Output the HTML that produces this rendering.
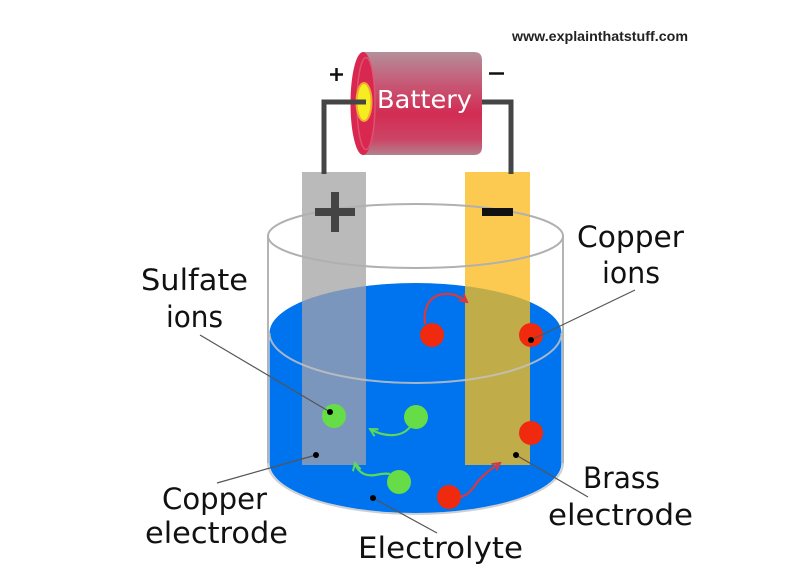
<!DOCTYPE html>
<html><head><meta charset="utf-8"><style>
html,body{margin:0;padding:0;background:#fff;}
svg{display:block;}
text{font-family:"DejaVu Sans","Liberation Sans",sans-serif;}
</style></head><body>
<svg width="800" height="580" viewBox="0 0 800 580" xmlns="http://www.w3.org/2000/svg">
<defs>
  <linearGradient id="batt" x1="0" y1="0" x2="0" y2="1">
    <stop offset="0" stop-color="#b48f9a"/>
    <stop offset="0.3" stop-color="#c65a77"/>
    <stop offset="0.6" stop-color="#d22c52"/>
    <stop offset="0.85" stop-color="#cc4566"/>
    <stop offset="1" stop-color="#b3808d"/>
  </linearGradient>
  <clipPath id="liq">
    <path d="M269.5,333 A146,50 0 0 1 561.5,333 L561.5,463 A146,50 0 0 1 269.5,463 Z"/>
  </clipPath>
  <marker id="ar" viewBox="0 0 10 10" refX="8.5" refY="5" markerWidth="10" markerHeight="10" markerUnits="userSpaceOnUse" orient="auto">
    <path d="M1,1 L8.5,5 L1,9" fill="none" stroke="#d63a40" stroke-width="2"/>
  </marker>
  <marker id="ag" viewBox="0 0 10 10" refX="8.5" refY="5" markerWidth="10" markerHeight="10" markerUnits="userSpaceOnUse" orient="auto">
    <path d="M1,1 L8.5,5 L1,9" fill="none" stroke="#5cd85a" stroke-width="2"/>
  </marker>
</defs>
<rect width="800" height="580" fill="#fff"/>

<!-- url -->
<text x="512" y="41" font-weight="bold" font-size="14" fill="#222" textLength="176" lengthAdjust="spacingAndGlyphs" style="font-family:'Liberation Sans',sans-serif">www.explainthatstuff.com</text>

<!-- beaker side lines and bottom -->
<line x1="268" y1="236" x2="268" y2="464" stroke="#b4b4b4" stroke-width="2"/>
<line x1="563" y1="236" x2="563" y2="464" stroke="#b4b4b4" stroke-width="2"/>
<path d="M268,463 A147.5,51 0 0 0 563,463" fill="none" stroke="#cfcfcf" stroke-width="2"/>

<!-- liquid -->
<path d="M269.5,333 A146,50 0 0 1 561.5,333 L561.5,463 A146,50 0 0 1 269.5,463 Z" fill="#0073ee"/>

<!-- electrodes -->
<rect x="302" y="172" width="64" height="293" fill="#bababa"/>
<rect x="465" y="172" width="65" height="293" fill="#fcca50"/>
<g clip-path="url(#liq)">
  <rect x="302" y="172" width="64" height="293" fill="#7b96bd"/>
  <rect x="465" y="172" width="65" height="293" fill="#c0ad4a"/>
</g>

<!-- liquid surface front arc -->
<path d="M269.5,333 A146,50 0 0 0 561.5,333" fill="none" stroke="#c2c2c2" stroke-width="2" opacity="0.85"/>

<!-- beaker top rim -->
<ellipse cx="415.5" cy="236" rx="147.5" ry="32" fill="none" stroke="#b0b0b0" stroke-width="2"/>

<!-- electrode signs -->
<rect x="315" y="208" width="40" height="8" fill="#444"/>
<rect x="331" y="192" width="8" height="40" fill="#444"/>
<rect x="482" y="208" width="31" height="8" fill="#111"/>

<!-- wires -->
<polyline points="478,102 511,102 511,174" fill="none" stroke="#454545" stroke-width="5"/>

<!-- battery -->
<path d="M363,52 L474,52 Q482,52 482,60 L482,147 Q482,155 474,155 L363,155 Z" fill="url(#batt)"/>
<ellipse cx="363" cy="103.5" rx="12.5" ry="51.5" fill="#d92850"/>
<ellipse cx="366" cy="103.5" rx="9" ry="46" fill="none" stroke="#e4607e" stroke-width="1.5" opacity="0.7"/>
<ellipse cx="364" cy="102" rx="7.5" ry="19" fill="#f5ec22" stroke="#f2a830" stroke-width="2"/>
<polyline points="366,102 324,102 324,174" fill="none" stroke="#454545" stroke-width="5"/>
<text x="377" y="108" font-size="25" fill="#fff" textLength="95" lengthAdjust="spacingAndGlyphs">Battery</text>

<!-- + and - battery labels -->
<line x1="330" y1="74.5" x2="343" y2="74.5" stroke="#111" stroke-width="2.5"/>
<line x1="336.5" y1="68" x2="336.5" y2="81" stroke="#111" stroke-width="2.5"/>
<line x1="489" y1="73.5" x2="504" y2="73.5" stroke="#111" stroke-width="2.5"/>

<!-- ions -->
<circle cx="334" cy="416" r="12" fill="#66dd46"/>
<circle cx="416" cy="417" r="12" fill="#66dd46"/>
<circle cx="399" cy="482" r="12" fill="#66dd46"/>
<circle cx="432" cy="335" r="12" fill="#f02a0e"/>
<circle cx="531" cy="335" r="12" fill="#f02a0e"/>
<circle cx="531" cy="433" r="12" fill="#f02a0e"/>
<circle cx="449" cy="497" r="12" fill="#f02a0e"/>

<!-- arrows -->
<path d="M425,324 C423,306 431,295 444,294 C453,293 461,297 467,302" fill="none" stroke="#d63a40" stroke-width="2.2" marker-end="url(#ar)"/>
<path d="M460,497 C470,495 474,486 480,479 C486,472 493,468 500,463" fill="none" stroke="#d63a40" stroke-width="2.2" marker-end="url(#ar)"/>
<path d="M410,427 C402,437 386,438 370,429" fill="none" stroke="#5cd85a" stroke-width="2.2" marker-end="url(#ag)"/>
<path d="M390,474 C380,472 374,478 364,474 C358,471 356,467 355,463" fill="none" stroke="#5cd85a" stroke-width="2.2" marker-end="url(#ag)"/>

<!-- leader lines -->
<g stroke="#555" stroke-width="1.2" fill="none">
  <line x1="200" y1="335" x2="330" y2="412"/>
  <line x1="217" y1="483" x2="316" y2="455"/>
  <line x1="635" y1="290" x2="531" y2="340"/>
  <line x1="516" y1="455" x2="588" y2="497"/>
  <line x1="373" y1="498" x2="437" y2="533"/>
</g>
<g fill="#000">
  <circle cx="330" cy="412" r="3"/>
  <circle cx="316" cy="455" r="3"/>
  <circle cx="531" cy="340" r="3"/>
  <circle cx="516" cy="455" r="3"/>
  <circle cx="373" cy="498" r="3"/>
</g>

<!-- labels -->
<g font-size="29" fill="#111">
  <text x="141" y="290" textLength="107" lengthAdjust="spacingAndGlyphs">Sulfate</text>
  <text x="166" y="327" textLength="57" lengthAdjust="spacingAndGlyphs">ions</text>
  <text x="162" y="509" textLength="105" lengthAdjust="spacingAndGlyphs">Copper</text>
  <text x="145" y="543" textLength="143" lengthAdjust="spacingAndGlyphs">electrode</text>
  <text x="577" y="247" textLength="107" lengthAdjust="spacingAndGlyphs">Copper</text>
  <text x="602" y="283" textLength="58" lengthAdjust="spacingAndGlyphs">ions</text>
  <text x="583" y="488" textLength="77" lengthAdjust="spacingAndGlyphs">Brass</text>
  <text x="548" y="525" textLength="145" lengthAdjust="spacingAndGlyphs">electrode</text>
  <text x="358" y="558" textLength="165" lengthAdjust="spacingAndGlyphs">Electrolyte</text>
</g>
</svg>
</body></html>
